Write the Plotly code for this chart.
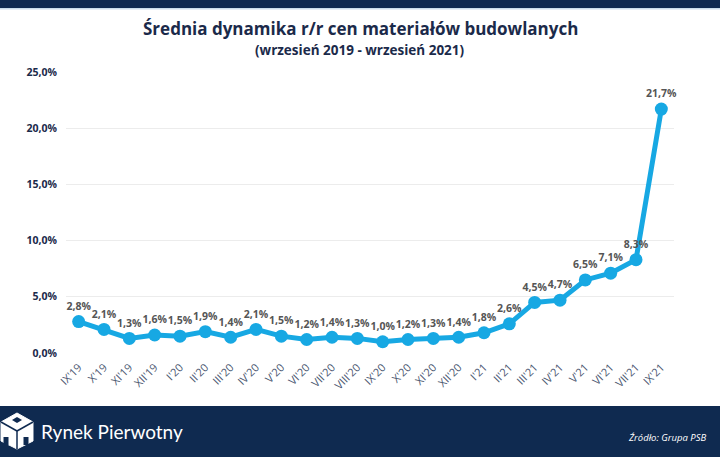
import plotly.graph_objects as go

categories = ["IX'19", "X'19", "XI'19", "XII'19", "I'20", "II'20", "III'20", "IV'20",
              "V'20", "VI'20", "VII'20", "VIII'20", "IX'20", "X'20", "XI'20", "XII'20",
              "I'21", "II'21", "III'21", "IV'21", "V'21", "VI'21", "VII'21", "IX'21"]
values = [2.8, 2.1, 1.3, 1.6, 1.5, 1.9, 1.4, 2.1, 1.5, 1.2, 1.4, 1.3,
          1.0, 1.2, 1.3, 1.4, 1.8, 2.6, 4.5, 4.7, 6.5, 7.1, 8.3, 21.7]
y_ticks = [0, 5, 10, 15, 20, 25]

title_text = "Średnia dynamika r/r cen materiałów budowlanych"
subtitle_text = "(wrzesień 2019 - wrzesień 2021)"
brand_text = "Rynek Pierwotny"
source_text = "Źródło: Grupa PSB"

W, H = 720, 457
L, R, T, B = 66, 46, 72, 104
PW, PH = W - L - R, H - T - B
NAVY = "#0f2a50"
BLUE = "#17a8e3"


def px(x):
    return (x - L) / PW


def py(y):
    return (H - B - y) / PH


def pct(v):
    return f"{v:.1f}".replace(".", ",") + "%"


labels = [pct(v) for v in values]
y_tick_text = [pct(v) for v in y_ticks]

fig = go.Figure()
fig.add_trace(go.Scatter(
    x=categories, y=values, mode="lines+markers+text",
    line=dict(color=BLUE, width=5),
    marker=dict(color=BLUE, size=13),
    text=labels, textposition="top center",
    textfont=dict(family="Open Sans", size=10.5, color="#555555", weight="bold"),
    cliponaxis=False, hoverinfo="skip",
))

shapes = []
# top bar
shapes.append(dict(type="rect", xref="paper", yref="paper", x0=px(0), x1=px(W),
                   y0=py(8), y1=py(0), fillcolor=NAVY, line_width=0, layer="above"))
shapes.append(dict(type="rect", xref="paper", yref="paper", x0=px(0), x1=px(W),
                   y0=py(9.5), y1=py(8), fillcolor="#c9dcea", line_width=0, layer="above"))
# footer
shapes.append(dict(type="rect", xref="paper", yref="paper", x0=px(0), x1=px(W),
                   y0=py(H), y1=py(406), fillcolor=NAVY, line_width=0, layer="above"))


def path(points):
    s = "M " + " L ".join(f"{px(a):.5f},{py(b):.5f}" for a, b in points) + " Z"
    return s


# logo cube
cx, cy = 17, 431
hexagon = [(cx, 413), (33, 422), (33, 441), (cx, 449), (1, 441), (1, 422)]
shapes.append(dict(type="path", xref="paper", yref="paper", path=path(hexagon),
                   fillcolor="white", line=dict(color="white", width=1), layer="above"))
for a, b in [((cx, cy), (cx, 449)), ((cx, cy), (1, 422)), ((cx, cy), (33, 422))]:
    shapes.append(dict(type="line", xref="paper", yref="paper", x0=px(a[0]), y0=py(a[1]),
                       x1=px(b[0]), y1=py(b[1]), line=dict(color=NAVY, width=1.5), layer="above"))
# little doors
for dx in (6, 26):
    shapes.append(dict(type="rect", xref="paper", yref="paper", x0=px(dx - 2.5), x1=px(dx + 2.5),
                       y0=py(445), y1=py(437), fillcolor=NAVY, line_width=0, layer="above"))
shapes.append(dict(type="path", xref="paper", yref="paper",
                   path=path([(12, 420), (17, 417), (22, 420), (17, 423)]),
                   fillcolor=NAVY, line_width=0, layer="above"))

annotations = [
    dict(text=title_text, xref="paper", yref="paper", x=px(360), y=py(29),
         showarrow=False, xanchor="center", yanchor="middle",
         font=dict(family="Open Sans", size=17, color="#1b2a4a", weight="bold")),
    dict(text=subtitle_text, xref="paper", yref="paper", x=px(360), y=py(50),
         showarrow=False, xanchor="center", yanchor="middle",
         font=dict(family="Open Sans", size=13.5, color="#1b2a4a", weight="bold")),
    dict(text=brand_text, xref="paper", yref="paper", x=px(39), y=py(431),
         showarrow=False, xanchor="left", yanchor="middle",
         font=dict(family="Lato", size=19, color="white")),
    dict(text=f"<i>{source_text}</i>", xref="paper", yref="paper", x=px(708), y=py(437),
         showarrow=False, xanchor="right", yanchor="middle",
         font=dict(family="Open Sans", size=9.5, color="white")),
]

fig.update_layout(
    width=W, height=H,
    margin=dict(l=L, r=R, t=T, b=B, pad=0),
    paper_bgcolor="white", plot_bgcolor="white",
    showlegend=False,
    shapes=shapes, annotations=annotations,
    xaxis=dict(type="category", range=[-0.5, len(categories) - 0.5],
               tickangle=-45, showgrid=False, zeroline=False, showline=False,
               ticks="", ticklabelstandoff=5,
               tickfont=dict(family="Open Sans", size=11, color="#4a5670"),
               fixedrange=True),
    yaxis=dict(range=[0, 25], tickvals=y_ticks, ticktext=y_tick_text,
               showgrid=True, gridcolor="#ececec", gridwidth=1, zeroline=False,
               showline=False, ticks="", ticklabelstandoff=8,
               tickfont=dict(family="Open Sans", size=10.5, color="#1b2a4a", weight="bold"),
               fixedrange=True),
)

fig.write_html("out.html")
